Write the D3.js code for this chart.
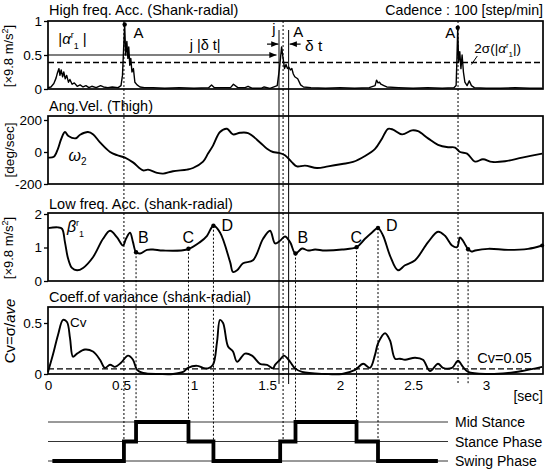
<!DOCTYPE html>
<html><head><meta charset="utf-8">
<script src="https://cdn.jsdelivr.net/npm/d3@7"></script>
<style>body{margin:0;background:#fff}svg{display:block}text{font-family:"Liberation Sans",Arial,sans-serif;fill:#000}</style>
</head><body><svg id="c" width="550" height="471"></svg>
<script>
// ---------- data (time in sec) ----------
const xTicks = [0, 0.5, 1, 1.5, 2, 2.5, 3];
const xTickLabels = ["0", "0.5", "1", "1.5", "2", "2.5", "3"];

const hfTime = [0,0.02,0.04,0.055,0.065,0.075,0.082,0.09,0.1,0.108,0.118,0.128,0.14,0.15,0.165,0.18,0.2,0.22,0.24,0.26,0.28,0.3,0.33,0.36,0.38,0.41,0.44,0.48,0.5,0.51,0.518,0.525,0.532,0.54,0.547,0.553,0.56,0.567,0.575,0.585,0.595,0.61,0.63,0.66,0.72,0.8,0.9,1.0,1.1,1.12,1.14,1.2,1.25,1.27,1.3,1.35,1.37,1.4,1.46,1.48,1.52,1.57,1.585,1.6,1.61,1.62,1.63,1.64,1.65,1.66,1.67,1.68,1.69,1.71,1.73,1.75,1.8,1.9,2.0,2.1,2.2,2.24,2.25,2.26,2.27,2.28,2.3,2.32,2.4,2.5,2.6,2.7,2.78,2.795,2.8,2.806,2.812,2.82,2.828,2.836,2.845,2.855,2.87,2.885,2.9,2.92,3.0,3.1,3.2,3.3,3.384];
const hfValue = [0.02,0.03,0.08,0.16,0.24,0.3,0.2,0.28,0.18,0.25,0.15,0.2,0.1,0.14,0.07,0.09,0.04,0.06,0.03,0.05,0.02,0.04,0.02,0.05,0.03,0.02,0.03,0.02,0.05,0.2,0.6,0.95,0.5,0.7,0.45,0.62,0.35,0.45,0.25,0.3,0.1,0.06,0.03,0.02,0.02,0.01,0.02,0.01,0.02,0.06,0.02,0.02,0.02,0.07,0.02,0.02,0.04,0.01,0.01,0.03,0.01,0.05,0.3,0.62,0.45,0.3,0.36,0.3,0.32,0.28,0.3,0.22,0.18,0.15,0.06,0.03,0.02,0.01,0.02,0.01,0.02,0.05,0.13,0.09,0.1,0.07,0.05,0.03,0.02,0.01,0.02,0.01,0.02,0.05,0.4,0.9,0.4,0.55,0.3,0.5,0.25,0.1,0.05,0.12,0.05,0.02,0.01,0.01,0.02,0.01,0.01];

const avTime = [0,0.04,0.068,0.09,0.116,0.14,0.192,0.22,0.274,0.31,0.356,0.425,0.473,0.527,0.582,0.651,0.685,0.747,0.788,0.856,0.952,0.993,1.062,1.096,1.13,1.178,1.226,1.267,1.315,1.37,1.452,1.5,1.541,1.58,1.623,1.671,1.705,1.76,1.842,1.918,2.014,2.089,2.171,2.24,2.288,2.329,2.363,2.425,2.493,2.534,2.603,2.671,2.74,2.788,2.822,2.87,2.925,2.979,3.041,3.13,3.247,3.384];
const avValue = [-35,-30,20,80,125,100,86,108,125,110,60,0,-20,-35,-65,-115,-110,-130,-135,-120,-110,-100,-60,-10,40,125,145,110,120,118,60,20,0,-5,-20,-65,-90,-85,-100,-90,-75,-62,-25,20,85,145,140,110,135,130,85,45,30,28,0,-10,-60,-45,-62,-58,-35,-10];

const lfTime = [0,0.068,0.096,0.116,0.137,0.164,0.199,0.24,0.308,0.377,0.425,0.473,0.514,0.534,0.562,0.582,0.603,0.63,0.678,0.719,0.788,0.952,1.041,1.089,1.133,1.178,1.247,1.267,1.295,1.336,1.404,1.473,1.521,1.555,1.589,1.623,1.658,1.695,1.74,1.781,1.829,1.897,2.014,2.113,2.171,2.219,2.26,2.295,2.342,2.397,2.445,2.514,2.603,2.671,2.719,2.767,2.801,2.822,2.842,2.862,2.877,2.9,2.925,3.014,3.151,3.288,3.384];
const lfValue = [1.58,1.6,1.56,1.16,0.68,0.39,0.32,0.39,0.71,1.26,1.5,1.3,1.06,1.26,1.44,1.16,0.86,0.82,0.93,0.94,0.91,0.94,1.16,1.35,1.65,1.45,0.57,0.27,0.32,0.53,0.62,1.26,1.5,1.12,1.2,1.33,1.16,0.82,0.97,0.91,0.94,0.91,0.94,1.01,1.26,1.45,1.58,1.35,0.76,0.32,0.47,0.62,1.16,1.47,1.35,1.06,1.01,1.3,1.2,1.05,0.95,0.88,0.91,0.96,0.93,0.96,1.06];

const cvTime = [0,0.034,0.068,0.103,0.13,0.151,0.171,0.199,0.253,0.308,0.356,0.39,0.425,0.459,0.5,0.548,0.582,0.61,0.651,0.767,0.856,0.925,0.959,1.021,1.062,1.096,1.13,1.158,1.178,1.199,1.233,1.267,1.295,1.349,1.397,1.452,1.5,1.541,1.555,1.589,1.616,1.658,1.692,1.74,1.897,2.014,2.103,2.158,2.205,2.24,2.26,2.308,2.342,2.377,2.411,2.445,2.514,2.568,2.616,2.671,2.705,2.767,2.808,2.842,2.877,3.014,3.151,3.247,3.384];
const cvValue = [0.02,0.19,0.38,0.53,0.51,0.35,0.17,0.2,0.24,0.22,0.14,0.06,0.09,0.07,0.11,0.18,0.14,0.04,0.01,0,0,0.02,0.06,0.08,0.06,0.055,0.09,0.32,0.53,0.5,0.27,0.22,0.12,0.2,0.18,0.1,0.09,0.055,0.09,0.14,0.18,0.12,0.055,0.02,0,0,0.04,0.1,0.06,0.19,0.3,0.4,0.33,0.15,0.15,0.14,0.16,0.14,0.03,0.1,0.06,0.06,0.13,0.07,0.02,0,0.01,0.03,0.07];

const eventA = [0.52, 1.61, 2.808];
const eventB = [0.603, 1.695, 2.877];
const eventC = [0.962, 2.113];
const eventD = [1.133, 2.26];
const deltaLines = [1.582, 1.648];

const phaseNames = ["Swing Phase", "Stance Phase", "Mid Stance"];
const phaseTimes = [0.03, 0.52, 0.603, 0.962, 1.133, 1.59, 1.695, 2.113, 2.26, 2.67];
const phaseLevel = ["Swing Phase","Stance Phase","Mid Stance","Stance Phase","Swing Phase","Stance Phase","Mid Stance","Stance Phase","Swing Phase","Swing Phase"];

const hfThreshold = 0.39;   // 2σ(|α|)
const cvThreshold = 0.05;

// ---------- layout ----------
const svg = d3.select("#c");
const L = 48, R = 543;
const x = d3.scaleLinear().domain([0, 3.39]).range([L, R]);
const font = 13.5;
const FF = '"Liberation Sans",Arial,sans-serif';

const panels = [
  {title:"High freq. Acc. (Shank-radial)", tb:15, top:21, bot:89, y:d3.scaleLinear([0,1],[89,21]), ticks:[0,0.5,1], tl:["0","0.5","1"], t:hfTime, v:hfValue, curve:d3.curveLinear},
  {title:"Ang.Vel. (Thigh)", tb:111, top:116, bot:184, y:d3.scaleLinear([-200,200],[184,120]), ticks:[-200,0,200], tl:["-200","0","200"], t:avTime, v:avValue, curve:d3.curveCatmullRom},
  {title:"Low freq. Acc. (shank-radial)", tb:209, top:213, bot:281, y:d3.scaleLinear([0,2],[281,214]), ticks:[0,1,2], tl:["0","1","2"], t:lfTime, v:lfValue, curve:d3.curveCatmullRom},
  {title:"Coeff.of variance (shank-radial)", tb:302, top:307, bot:374, y:d3.scaleLinear([0,0.5],[374,323]), ticks:[0,0.5], tl:["0","0.5"], t:cvTime, v:cvValue, curve:d3.curveCatmullRom}
];
const yPh = d3.scalePoint().domain(phaseNames).range([461, 422]);

const dot = "2,2";
const P = panels;
function vline(t, y0, y1, dash, w) {
  svg.append("line").attr("x1", x(t)).attr("x2", x(t)).attr("y1", y0).attr("y2", y1)
    .attr("stroke", "#000").attr("stroke-width", w || 1).attr("stroke-dasharray", dash || null);
}
const lfAt = t => { const i = d3.bisectLeft(lfTime, t); if (i<=0) return lfValue[0]; const t0=lfTime[i-1], t1=lfTime[i]; return lfValue[i-1]+(lfValue[i]-lfValue[i-1])*(t-t0)/(t1-t0); };
eventA.forEach((t,i) => vline(t, P[0].top, i < 2 ? yPh("Stance Phase") : 385, dot));
eventB.forEach((t,i) => vline(t, P[2].y(lfAt(t)), i < 2 ? yPh("Mid Stance") : 385, dot));
eventC.forEach(t => vline(t, P[2].y(lfAt(t)), yPh("Mid Stance"), dot));
eventD.forEach(t => vline(t, P[2].y(lfAt(t)), yPh("Stance Phase"), dot));
deltaLines.forEach(t => vline(t, 30, 384, null, 1));

panels.forEach((p, k) => {
  const g = svg.append("g");
  g.append("rect").attr("x", L).attr("y", p.top).attr("width", R - L).attr("height", p.bot - p.top)
    .attr("fill", "none").attr("stroke", "#000").attr("stroke-width", 1.7);
  const ax = d3.axisLeft(p.y).tickValues(p.ticks).tickFormat((d,i) => p.tl[i]).tickSize(4).tickPadding(2);
  const a = g.append("g").attr("transform", `translate(${L},0)`).call(ax);
  a.select(".domain").remove();
  a.selectAll("line").attr("stroke", "#000").attr("stroke-width", 1.3);
  a.selectAll("text").attr("font-size", font).attr("font-family", FF);
  g.append("text").attr("x", L + 1).attr("y", p.tb).attr("font-size", 14.5).text(p.title);
  const line = d3.line().x((d,i) => x(p.t[i])).y(d => p.y(d)).curve(p.curve);
  g.append("path").attr("d", line(p.v)).attr("fill", "none").attr("stroke", "#000")
    .attr("stroke-width", k === 0 ? 1.4 : 1.9).attr("stroke-linejoin", "round");
});

// thresholds
svg.append("line").attr("x1", L).attr("x2", R).attr("y1", P[0].y(hfThreshold)).attr("y2", P[0].y(hfThreshold))
  .attr("stroke", "#000").attr("stroke-width", 1.4).attr("stroke-dasharray", "6,3");
svg.append("line").attr("x1", L).attr("x2", R).attr("y1", P[3].y(cvThreshold)).attr("y2", P[3].y(cvThreshold))
  .attr("stroke", "#000").attr("stroke-width", 1.4).attr("stroke-dasharray", "6,3");

// x axis labels
const xa = d3.axisBottom(x).tickValues(xTicks).tickFormat((d,i) => xTickLabels[i]).tickSize(0).tickPadding(6);
const xg = svg.append("g").attr("transform", `translate(0,${P[3].bot})`).call(xa);
xg.select(".domain").remove();
xg.selectAll("text").attr("font-size", font).attr("font-family", FF);
svg.append("text").attr("x", R).attr("y", 401).attr("text-anchor", "end").attr("font-size", 14).text("[sec]");

// y axis titles
function ylab(cx, cy, size, build) {
  const t = svg.append("text").attr("transform", `translate(${cx},${cy}) rotate(-90)`).attr("text-anchor", "middle").attr("font-size", size);
  build(t);
}
[[13, 56], [13, 248]].forEach(([cx, cy]) => ylab(cx, cy, 13, t => {
  t.append("tspan").text("[×9.8 m/s");
  t.append("tspan").attr("font-size", 9).attr("dy", -5).text("2");
  t.append("tspan").attr("dy", 5).text("]");
}));
ylab(14, 150, 13.5, t => t.text("[deg/sec]"));
ylab(15, 331, 15, t => { t.append("tspan").text("Cv=σ/"); t.append("tspan").attr("font-style", "italic").text("ave"); });

svg.append("text").attr("x", R).attr("y", 15).attr("text-anchor", "end").attr("font-size", 14.2).text("Cadence : 100 [step/min]");

// arrowheads
const defs = svg.append("defs");
defs.append("marker").attr("id", "ah").attr("viewBox", "0 0 10 10").attr("refX", 10).attr("refY", 5)
  .attr("markerWidth", 7).attr("markerHeight", 6).attr("orient", "auto-start-reverse")
  .append("path").attr("d", "M0,1 L10,5 L0,9 Z").attr("fill", "#000");
function arrow(x1, y1, x2, y2) {
  svg.append("line").attr("x1", x1).attr("y1", y1).attr("x2", x2).attr("y2", y2)
    .attr("stroke", "#000").attr("stroke-width", 1.2).attr("marker-end", "url(#ah)");
}
const y1 = P[0].y;
arrow(L, y1(0.5), x(1.565), y1(0.5));
arrow(x(1.5), y1(0.66), x(1.578), y1(0.66));
arrow(x(1.73), y1(0.66), x(1.655), y1(0.66));

// labels
function lab(px, py, txt, size) { return svg.append("text").attr("x", px).attr("y", py).attr("font-size", size || 15).text(txt); }
function alphaLabel(px, py, size) {
  const t = svg.append("text").attr("x", px).attr("y", py).attr("font-size", size);
  t.append("tspan").text("|");
  t.append("tspan").attr("font-style", "italic").text("α");
  t.append("tspan").attr("font-size", size*0.6).attr("dy", -size*0.4).text("r");
  t.append("tspan").attr("font-size", size*0.6).attr("dy", size*0.75).text("1");
  t.append("tspan").attr("dy", -size*0.35).text(" |");
  return t;
}
alphaLabel(x(0.07), 44, 15);
lab(x(0.585), 38, "A", 15);
lab(x(1.68), 37, "A", 15);
lab(x(2.72), 38, "A", 15);
lab(x(0.97), 50, "j |δ t|", 14.5);
lab(x(1.535), 34, "j", 14.5);
lab(x(1.76), 51, "δ t", 15.5);
const s2 = svg.append("text").attr("x", x(2.92)).attr("y", 53).attr("font-size", 13.5);
s2.append("tspan").text("2σ(|");
s2.append("tspan").attr("font-style", "italic").text("α");
s2.append("tspan").attr("font-size", 8).attr("dy", -5).text("r");
s2.append("tspan").attr("font-size", 8).attr("dy", 9).text("1");
s2.append("tspan").attr("dy", -4).text("|)");
svg.append("line").attr("x1", x(2.94)).attr("y1", 56).attr("x2", x(2.9)).attr("y2", y1(hfThreshold) + 2).attr("stroke", "#000").attr("stroke-width", 1);

const peakA = [[0.525, 0.95], [2.806, 0.9]];
peakA.forEach(([t, v]) => svg.append("circle").attr("cx", x(t)).attr("cy", y1(v)).attr("r", 2.2).attr("fill", "#000"));

const w2 = svg.append("text").attr("x", x(0.14)).attr("y", 161).attr("font-size", 16);
w2.append("tspan").attr("font-style", "italic").text("ω");
w2.append("tspan").attr("font-size", 10).attr("dy", 4).text("2");
const b3 = svg.append("text").attr("x", x(0.13)).attr("y", 232).attr("font-size", 16);
b3.append("tspan").attr("font-style", "italic").text("β");
b3.append("tspan").attr("font-size", 9).attr("dy", -6).text("r");
b3.append("tspan").attr("font-size", 9).attr("dy", 11).text("1");

const y3 = P[2].y;
[...eventB.slice(0, 2), ...eventC, ...eventD, eventB[2]].forEach(t =>
  svg.append("circle").attr("cx", x(t)).attr("cy", y3(lfAt(t))).attr("r", 2.2).attr("fill", "#000"));
svg.append("circle").attr("cx", x(lfTime[lfTime.length-1])).attr("cy", y3(lfValue[lfValue.length-1])).attr("r", 2).attr("fill", "#000");
eventB.slice(0, 2).forEach(t => lab(x(t) + 2, 243, "B", 16));
eventC.forEach(t => lab(x(t) - 6, 243, "C", 16));
eventD.forEach(t => lab(x(t) + 8, 231, "D", 16));

lab(x(0.15), 327, "Cv", 13.5);
lab(x(2.94), 363, "Cv=0.05", 14.5);

// phase chart
phaseNames.forEach(n => {
  svg.append("line").attr("x1", L).attr("x2", 448).attr("y1", yPh(n)).attr("y2", yPh(n)).attr("stroke", "#000").attr("stroke-width", 0.8);
  svg.append("text").attr("x", 455).attr("y", yPh(n) + 5).attr("font-size", 14).text(n);
});
const step = d3.line().x((d,i) => x(phaseTimes[i])).y(d => yPh(d)).curve(d3.curveStepAfter);
svg.append("path").attr("d", step(phaseLevel)).attr("fill", "none").attr("stroke", "#000").attr("stroke-width", 3.8);
</script></body></html>
